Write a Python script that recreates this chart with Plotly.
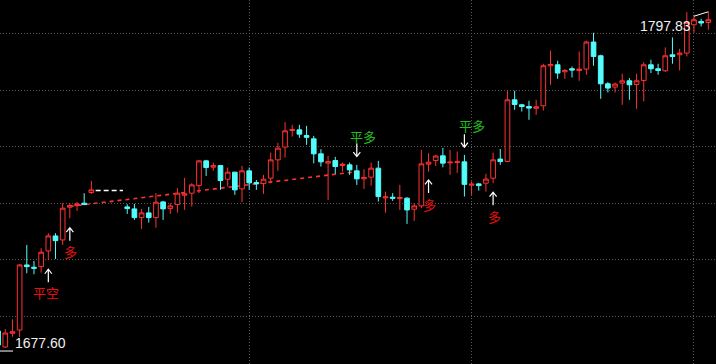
import plotly.graph_objects as go

# ---------------- data ----------------
IDX = list(range(100))
OPEN = [1684.69, 1679.02, 1683.88, 1685.05, 1708.10, 1707.29, 1707.50, 1713.07, 1718.39, 1716.97,
        1728.57, 1729.14, 1729.99, 1733.75, None, None, None, None, 1728.68, 1727.97,
        1724.88, 1726.55, 1724.88, 1730.45, 1728.07, 1729.49, 1732.83, 1733.54, 1736.23, 1744.99,
        1742.76, 1743.33, 1738.50, 1740.99, 1735.06, 1741.45, 1737.30, 1736.94, 1738.86, 1745.35,
        1749.85, 1755.74, 1755.99, 1753.97, 1752.80, 1747.48, 1744.18, 1745.10, 1743.33, 1743.57,
        1741.45, 1738.61, 1739.21, 1742.40, 1731.87, 1732.12, 1731.62, 1731.76, 1727.86, 1729.03,
        1743.82, 1745.10, 1746.77, 1744.28, 1744.39, 1744.64, 1736.37, 1736.83, 1737.08, 1738.86,
        1745.63, 1744.75, 1766.63, 1764.86, 1764.25, 1763.61, 1764.50, 1778.69, 1779.04, 1776.56,
        1777.63, 1777.02, 1777.52, 1787.10, 1782.24, 1772.30, 1771.13, 1772.55, 1773.37, 1772.06,
        1773.48, 1779.04, 1777.63, 1776.92, 1782.59, 1782.59, 1783.19, 1793.23, 1794.40, 1794.05]
HIGH = [1685.40, 1685.40, 1688.84, 1708.46, 1715.20, 1709.52, 1714.03, 1719.35, 1719.35, 1729.99,
        1729.99, 1730.45, 1733.54, 1737.90, None, None, None, None, 1729.63, 1729.74,
        1727.97, 1728.68, 1733.54, 1730.81, 1729.99, 1735.31, 1738.96, 1737.08, 1745.35, 1745.35,
        1744.39, 1743.40, 1742.62, 1741.09, 1743.22, 1742.62, 1738.25, 1740.03, 1747.94, 1751.38,
        1758.72, 1757.76, 1757.76, 1757.41, 1753.86, 1749.14, 1746.77, 1746.41, 1744.39, 1744.39,
        1743.57, 1742.05, 1744.39, 1744.99, 1734.10, 1733.54, 1736.48, 1732.12, 1729.99, 1748.89,
        1747.72, 1747.12, 1749.60, 1748.89, 1748.29, 1747.12, 1737.72, 1737.19, 1740.38, 1747.94,
        1749.18, 1769.82, 1769.82, 1765.21, 1766.28, 1766.63, 1779.40, 1784.01, 1780.46, 1777.52,
        1778.44, 1783.76, 1787.56, 1790.39, 1782.59, 1772.91, 1772.77, 1775.85, 1774.33, 1775.85,
        1780.00, 1780.82, 1779.40, 1785.18, 1788.73, 1784.72, 1797.67, 1796.78, 1795.36, 1797.83]
LOW = [1677.60, 1678.66, 1682.67, 1682.57, 1705.16, 1704.81, 1705.37, 1709.88, 1710.23, 1715.20,
       1724.67, 1727.26, 1729.45, 1733.29, None, None, None, None, 1726.19, 1724.07,
       1720.87, 1723.11, 1721.33, 1724.07, 1726.19, 1726.65, 1727.61, 1728.78, 1733.54, 1739.67,
       1741.45, 1734.71, 1735.88, 1732.93, 1730.34, 1734.71, 1734.71, 1733.29, 1737.08, 1741.45,
       1746.16, 1753.61, 1753.15, 1750.67, 1744.11, 1742.97, 1731.16, 1740.38, 1741.20, 1740.03,
       1736.48, 1735.06, 1736.23, 1730.56, 1726.65, 1730.81, 1727.61, 1722.65, 1723.71, 1728.22,
       1741.20, 1743.22, 1742.69, 1740.03, 1740.74, 1732.33, 1732.93, 1734.46, 1734.10, 1737.08,
       1743.57, 1744.64, 1763.08, 1762.48, 1759.54, 1761.31, 1762.84, 1771.95, 1774.08, 1774.08,
       1774.54, 1773.37, 1775.50, 1778.69, 1766.98, 1769.22, 1769.22, 1764.86, 1766.63, 1763.44,
       1766.03, 1776.10, 1775.50, 1776.45, 1779.40, 1777.02, 1781.99, 1790.29, 1792.63, 1791.46]
CLOSE = [1679.73, 1683.98, 1684.45, 1708.10, 1707.50, 1706.93, 1712.61, 1718.39, 1716.72, 1728.22,
         1729.14, 1729.74, 1729.49, 1734.71, None, None, None, None, 1728.07, 1724.88,
         1726.55, 1724.88, 1730.34, 1727.97, 1729.03, 1733.54, 1733.29, 1736.48, 1744.99, 1742.62,
         1743.33, 1738.01, 1740.99, 1734.71, 1741.45, 1737.19, 1736.83, 1738.50, 1745.35, 1749.50,
         1755.63, 1756.10, 1754.46, 1753.33, 1747.48, 1744.64, 1744.75, 1742.97, 1743.82, 1741.80,
         1738.61, 1739.07, 1742.40, 1732.33, 1732.22, 1731.76, 1731.98, 1727.61, 1729.03, 1743.93,
         1744.53, 1746.70, 1744.18, 1744.53, 1744.64, 1736.66, 1736.73, 1736.23, 1738.54, 1745.35,
         1744.75, 1766.63, 1764.96, 1764.25, 1763.69, 1764.15, 1778.69, 1779.15, 1776.10, 1777.02,
         1777.16, 1777.52, 1787.10, 1781.99, 1772.30, 1770.78, 1772.20, 1773.37, 1771.95, 1773.37,
         1779.04, 1777.63, 1777.02, 1782.24, 1781.99, 1783.19, 1794.05, 1795.01, 1793.84, 1795.01]

MIN_LABEL = "1677.60"
MAX_LABEL = "1797.83"
MIN_POINT = (0, 1677.60)
MAX_POINT = (99, 1797.83)

# trading signals
SIGNAL_TEXT = ["平空", "多", "平多", "多", "平多", "多"]
SIGNAL_KIND = ["short_close", "long", "long_close", "long", "long_close", "long"]
SIGNAL_BAR = [7, 10, 50, 60, 65, 69]
SIGNAL_TIP = [1706.58, 1721.33, 1746.52, 1738.25, 1749.85, 1733.89]
SIGNAL_TEXT_X = [6.68, 10.09, 50.86, 60.16, 66.02, 69.22]
SIGNAL_TEXT_Y = [1698.35, 1712.89, 1753.68, 1729.39, 1757.41, 1725.13]

# drawn lines
TREND_X = [10.0, 49.75]
TREND_Y = [1728.85, 1741.09]
FLAT_X = [13.6, 17.4]
FLAT_Y = 1734.53

UP_COLOR = "#ff3232"
DOWN_COLOR = "#54fcfc"
GRID_COLOR = "#5a5a5a"

fig = go.Figure()
fig.add_trace(go.Candlestick(
    x=IDX, open=OPEN, high=HIGH, low=LOW, close=CLOSE,
    increasing=dict(line=dict(color=UP_COLOR, width=1), fillcolor="#000000"),
    decreasing=dict(line=dict(color=DOWN_COLOR, width=1), fillcolor=DOWN_COLOR),
    hoverinfo="skip", showlegend=False,
))

shapes = []
annotations = []

# trend (red dashed) and flat (white dashed) lines
shapes.append(dict(type="line", xref="x", yref="y", x0=TREND_X[0], y0=TREND_Y[0],
                   x1=TREND_X[1], y1=TREND_Y[1], layer="below",
                   line=dict(color=UP_COLOR, width=1.6, dash="4px,4px")))
shapes.append(dict(type="line", xref="x", yref="y", x0=FLAT_X[0], y0=FLAT_Y,
                   x1=FLAT_X[1], y1=FLAT_Y,
                   line=dict(color="#ffffff", width=1.5, dash="5px,3px")))

# signal arrows + texts
for txt, kind, bar, tip, tx, ty in zip(SIGNAL_TEXT, SIGNAL_KIND, SIGNAL_BAR, SIGNAL_TIP,
                                       SIGNAL_TEXT_X, SIGNAL_TEXT_Y):
    if kind == "long_close":  # down arrow above the bar
        path = "M0,0 L0,13 M-3.5,4.5 L0,0 L3.5,4.5"
        color = "#20c020"
    else:  # up arrow below the bar
        path = "M0,0 L0,-13 M-3.5,-4.5 L0,0 L3.5,-4.5"
        color = "#e81010"
    shapes.append(dict(type="path", xref="x", yref="y", xsizemode="pixel", ysizemode="pixel",
                       xanchor=bar, yanchor=tip, path=path,
                       line=dict(color="#ffffff", width=1.2)))
    annotations.append(dict(x=tx, y=ty, xref="x", yref="y", text=txt, showarrow=False,
                            font=dict(family="Noto Sans CJK SC", size=13, color=color),
                            xanchor="center", yanchor="middle"))

# min / max labels
annotations.append(dict(x=2.08, y=1680.44, xref="x", yref="y", text=MIN_LABEL, showarrow=False,
                        xanchor="left", yanchor="middle",
                        font=dict(family="Liberation Sans", size=14, color="#f0f0f0")))
annotations.append(dict(x=96.87, y=1792.88, xref="x", yref="y", text=MAX_LABEL, showarrow=False,
                        xanchor="right", yanchor="middle",
                        font=dict(family="Liberation Sans", size=14, color="#f0f0f0")))
shapes.append(dict(type="line", xref="x", yref="y", x0=MIN_POINT[0], y0=MIN_POINT[1],
                   x1=2.08, y1=MIN_POINT[1], line=dict(color="#ffffff", width=1)))
shapes.append(dict(type="line", xref="x", yref="y", x0=97, y0=1796.25,
                   x1=MAX_POINT[0], y1=MAX_POINT[1], line=dict(color="#ffffff", width=1)))

fig.update_layout(
    width=716, height=364,
    margin=dict(l=0, r=0, t=0, b=0, pad=0),
    paper_bgcolor="#000000", plot_bgcolor="#000000",
    showlegend=False,
    boxgap=0.35, boxgroupgap=0,
    shapes=shapes, annotations=annotations,
    xaxis=dict(range=[0.265, 100.07], rangeslider=dict(visible=False),
               tickmode="array", tickvals=[35, 66, 97], showticklabels=False,
               showgrid=True, gridcolor=GRID_COLOR, gridwidth=1, griddash="1px,2px",
               zeroline=False, showline=False, ticks=""),
    yaxis=dict(range=[1673.0, 1802.0], tick0=1690, dtick=20, showticklabels=False,
               showgrid=True, gridcolor=GRID_COLOR, gridwidth=1, griddash="1px,2px",
               zeroline=False, showline=False, ticks=""),
)

fig.write_html("out.html", config={"displayModeBar": False})
